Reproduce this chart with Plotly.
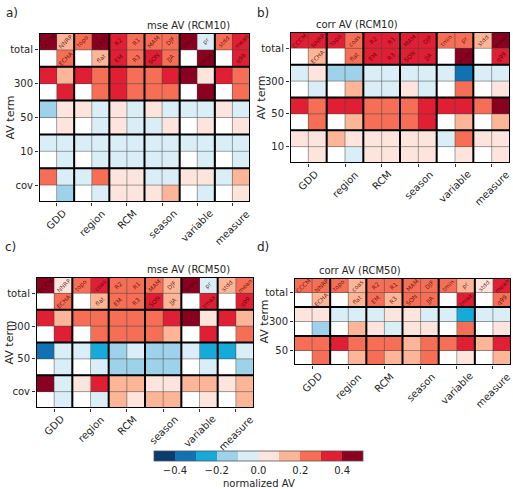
import plotly.graph_objects as go

# ---------------- data ----------------
groups = ["GDD", "region", "RCM", "season", "variable", "measure"]
labels_top = ["CCCM", "NNRP", "topo", "coas", "R2", "R1", "MAM", "DJF", "tmin", "pr", "stdd", "mean"]
labels_bot = ["", "ECHA", "", "flat", "EM", "R3", "SON", "JJA", "", "tmax", "", "q99"]

N = None
# panel a) mse AV (RCM10)
a_terms = ["total", "300", "50", "10", "cov"]
a_total = [[0.45, 0.15, 0.25, 0.45, 0.35, 0.25, 0.25, 0.25, 0.45, -0.05, 0.25, 0.35],
           [N, 0.25, N, 0.15, 0.35, 0.25, 0.35, 0.25, N, 0.45, N, 0.35]]
a_300 = [[0.35, 0.15, 0.35, 0.25, 0.35, 0.25, 0.25, 0.35, 0.45, 0.05, 0.35, 0.25],
         [N, 0.35, N, 0.25, 0.35, 0.25, 0.25, 0.25, N, 0.45, N, 0.25]]
a_50 = [[-0.15, 0.05, 0.05, -0.05, 0.05, -0.05, 0.05, -0.05, -0.05, -0.05, 0.05, -0.05],
        [N, 0.05, N, -0.05, 0.05, -0.05, -0.05, 0.05, N, 0.05, N, 0.05]]
a_10 = [[-0.05, -0.05, -0.05, -0.05, -0.05, -0.05, -0.05, -0.05, -0.05, -0.05, -0.05, -0.05],
        [N, -0.05, N, -0.05, -0.05, -0.05, -0.05, -0.05, N, -0.05, N, -0.05]]
a_cov = [[0.25, -0.05, -0.05, 0.25, 0.05, 0.05, -0.05, -0.05, 0.05, 0.05, -0.05, 0.15],
         [N, -0.15, N, -0.05, 0.05, 0.05, 0.05, 0.15, N, -0.05, N, 0.05]]

# panel b) corr AV (RCM10)
b_terms = ["total", "300", "50", "10"]
b_total = [[0.35, 0.35, 0.35, 0.25, 0.35, 0.35, 0.35, 0.35, 0.25, 0.25, 0.15, 0.45],
           [N, 0.15, N, 0.25, 0.35, 0.35, 0.35, 0.35, N, 0.45, N, 0.35]]
b_300 = [[-0.05, 0.05, -0.15, -0.15, -0.05, -0.05, -0.05, -0.05, -0.05, -0.35, -0.05, -0.05],
         [N, -0.05, N, 0.15, -0.05, -0.05, 0.05, -0.05, N, 0.25, N, 0.05]]
b_50 = [[0.35, 0.25, 0.35, 0.35, 0.25, 0.25, 0.25, 0.35, 0.35, 0.35, 0.25, 0.45],
        [N, 0.25, N, 0.15, 0.25, 0.25, 0.25, 0.35, N, 0.15, N, 0.15]]
b_10 = [[0.05, 0.05, 0.15, 0.05, 0.05, 0.05, 0.05, 0.05, -0.05, 0.25, 0.05, 0.05],
        [N, 0.05, N, -0.05, 0.05, 0.05, 0.05, 0.05, N, 0.05, N, 0.05]]

# panel c) mse AV (RCM50)
c_terms = ["total", "300", "50", "cov"]
c_total = [[0.45, 0.05, 0.25, 0.35, 0.25, 0.25, 0.25, 0.15, 0.45, -0.05, 0.15, 0.25],
           [N, 0.25, N, 0.15, 0.25, 0.25, 0.35, 0.15, N, 0.35, N, 0.35]]
c_300 = [[0.35, 0.15, 0.25, 0.25, 0.25, 0.25, 0.25, 0.35, 0.45, 0.05, 0.35, 0.15],
         [N, 0.35, N, 0.25, 0.25, 0.25, 0.25, 0.15, N, 0.35, N, 0.25]]
c_50 = [[-0.35, -0.05, -0.05, -0.25, -0.15, -0.05, -0.15, -0.15, -0.05, -0.25, -0.25, -0.05],
        [N, -0.05, N, -0.05, -0.15, -0.15, -0.15, -0.15, N, -0.05, N, -0.15]]
c_cov = [[0.45, -0.05, 0.05, 0.35, 0.15, 0.15, 0.05, 0.05, 0.15, 0.15, 0.05, 0.15],
         [N, -0.05, N, -0.05, 0.15, 0.05, 0.15, 0.15, N, 0.05, N, 0.15]]

# panel d) corr AV (RCM50)
d_terms = ["total", "300", "50"]
d_total = [[0.25, 0.25, 0.25, 0.15, 0.25, 0.25, 0.25, 0.25, 0.25, 0.15, 0.05, 0.35],
           [N, 0.15, N, 0.15, 0.25, 0.15, 0.25, 0.25, N, 0.35, N, 0.25]]
d_300 = [[0.05, 0.05, -0.05, -0.05, -0.05, 0.05, 0.05, -0.05, -0.05, -0.25, -0.05, -0.05],
         [N, -0.15, N, 0.15, 0.05, -0.05, 0.05, 0.05, N, 0.25, N, 0.05]]
d_50 = [[0.25, 0.25, 0.35, 0.25, 0.25, 0.25, 0.15, 0.25, 0.25, 0.35, 0.15, 0.35],
        [N, 0.25, N, 0.15, 0.25, 0.15, 0.15, 0.25, N, 0.05, N, 0.15]]

cbar_ticks = [-0.4, -0.2, 0.0, 0.2, 0.4]

# ---------------- styling ----------------
COLORS = ["#0a3d6e", "#0f72b3", "#17a9d8", "#9ed2ea", "#daeef7",
          "#fde5dd", "#fcb597", "#f56e55", "#e01e34", "#8a0020"]
colorscale = []
for i, c in enumerate(COLORS):
    colorscale.append([i / 10, c])
    colorscale.append([(i + 1) / 10, c])

W, H = 513, 489
FONT = "DejaVu Sans"
TXT = "#262626"
FS = 10

panels = [
    dict(letter="a)", title="mse AV (RCM10)", terms=a_terms, rows=[a_total, a_300, a_50, a_10, a_cov],
         px=(39, 250), py=(33, 202), lpos=(12, 13), tpos=10),
    dict(letter="b)", title="corr AV (RCM10)", terms=b_terms, rows=[b_total, b_300, b_50, b_10],
         px=(290, 510), py=(32, 163), lpos=(263, 13), tpos=261),
    dict(letter="c)", title="mse AV (RCM50)", terms=c_terms, rows=[c_total, c_300, c_50, c_cov],
         px=(36, 254), py=(277, 408), lpos=(10, 247), tpos=9),
    dict(letter="d)", title="corr AV (RCM50)", terms=d_terms, rows=[d_total, d_300, d_50],
         px=(294, 511), py=(278, 365), lpos=(263, 247), tpos=264),
]

fig = go.Figure()
shapes = []
annotations = []
layout = {}

for i, p in enumerate(panels, start=1):
    xa = "x" if i == 1 else f"x{i}"
    ya = "y" if i == 1 else f"y{i}"
    z = []
    for r in p["rows"]:
        z.extend(r)
    nrow = len(z)
    ncol = len(labels_top)
    fig.add_trace(go.Heatmap(
        z=z, x=list(range(ncol)), y=list(range(nrow)),
        colorscale=colorscale, zmin=-0.5, zmax=0.5,
        xaxis=xa, yaxis=ya, hoverongaps=False,
        showscale=(i == 1),
        colorbar=dict(orientation="h", x=(154 + 363) / 2 / W, xanchor="center",
                      y=1 - 451 / H, yanchor="top", ypad=0, xpad=0,
                      len=209, lenmode="pixels",
                      thickness=10, outlinewidth=0.8, outlinecolor="#555",
                      tickvals=cbar_ticks,
                      ticktext=[f"{t:.1f}".replace("-", "\u2212") for t in cbar_ticks],
                      ticks="", tickfont=dict(family=FONT, size=FS, color=TXT)),
    ))
    dx = [p["px"][0] / W, p["px"][1] / W]
    dy = [1 - p["py"][1] / H, 1 - p["py"][0] / H]
    layout["xaxis" if i == 1 else f"xaxis{i}"] = dict(
        domain=dx, anchor=ya, range=[-0.5, ncol - 0.5],
        tickvals=[2 * g + 0.5 for g in range(len(groups))], ticktext=[""] * len(groups),
        showgrid=False, zeroline=False, ticks="outside", ticklen=3, tickcolor="#333",
        automargin=False)
    layout["yaxis" if i == 1 else f"yaxis{i}"] = dict(
        domain=dy, anchor=xa, range=[nrow - 0.5, -0.5],
        tickvals=[2 * t + 0.5 for t in range(len(p["terms"]))], ticktext=p["terms"],
        showgrid=False, zeroline=False, ticks="outside", ticklen=3, tickcolor="#333",
        tickfont=dict(family=FONT, size=FS, color=TXT), automargin=False)
    # x group labels, rotated
    for g, name in enumerate(groups):
        annotations.append(dict(x=2 * g + 0.5, y=dy[0], xref=xa, yref="paper",
                                xanchor="center", yanchor="top", yshift=-3,
                                text=name, textangle=-45, showarrow=False,
                                font=dict(family=FONT, size=FS, color=TXT)))
    # y axis title
    annotations.append(dict(x=p["tpos"] / W, y=(dy[0] + dy[1]) / 2, xref="paper", yref="paper",
                            xanchor="center", yanchor="middle", text="AV term", textangle=-90,
                            showarrow=False, font=dict(family=FONT, size=FS + 1, color=TXT)))
    # thin grid lines
    for k in range(ncol + 1):
        shapes.append(dict(type="line", xref=xa, yref=ya, x0=k - 0.5, x1=k - 0.5,
                           y0=-0.5, y1=nrow - 0.5, line=dict(color="rgba(70,70,70,0.5)", width=1)))
    for k in range(nrow + 1):
        shapes.append(dict(type="line", xref=xa, yref=ya, y0=k - 0.5, y1=k - 0.5,
                           x0=-0.5, x1=ncol - 0.5, line=dict(color="rgba(70,70,70,0.5)", width=1)))
    # thick group borders
    for k in range(0, ncol + 1, 2):
        shapes.append(dict(type="line", xref=xa, yref=ya, x0=k - 0.5, x1=k - 0.5,
                           y0=-0.5, y1=nrow - 0.5, line=dict(color="black", width=2)))
    for k in range(0, nrow + 1, 2):
        shapes.append(dict(type="line", xref=xa, yref=ya, y0=k - 0.5, y1=k - 0.5,
                           x0=-0.5, x1=ncol - 0.5, line=dict(color="black", width=2)))
    # cell labels in the "total" row
    for k in range(ncol):
        for rr, lab in ((0, labels_top[k]), (1, labels_bot[k])):
            if lab:
                annotations.append(dict(x=k, y=rr, xref=xa, yref=ya, text=lab, showarrow=False,
                                        textangle=-45,
                                        font=dict(family=FONT, size=6, color="rgba(70,0,0,0.8)")))
    # panel title
    annotations.append(dict(x=(dx[0] + dx[1]) / 2, y=dy[1], xref="paper", yref="paper",
                            yanchor="bottom", text=p["title"], showarrow=False,
                            font=dict(family=FONT, size=FS, color=TXT)))
    # panel letter
    annotations.append(dict(x=p["lpos"][0] / W, y=1 - p["lpos"][1] / H, xref="paper", yref="paper",
                            xanchor="center", yanchor="middle", text=p["letter"], showarrow=False,
                            font=dict(family=FONT, size=12, color=TXT)))

# colorbar label
annotations.append(dict(x=(154 + 363) / 2 / W, y=1 - 483 / H, xref="paper", yref="paper",
                        xanchor="center", yanchor="middle", text="normalized AV", showarrow=False,
                        font=dict(family=FONT, size=FS, color=TXT)))

fig.update_layout(width=W, height=H, margin=dict(l=0, r=0, t=0, b=0),
                  paper_bgcolor="white", plot_bgcolor="white",
                  shapes=shapes, annotations=annotations, showlegend=False, **layout)
fig.write_html("out.html")
